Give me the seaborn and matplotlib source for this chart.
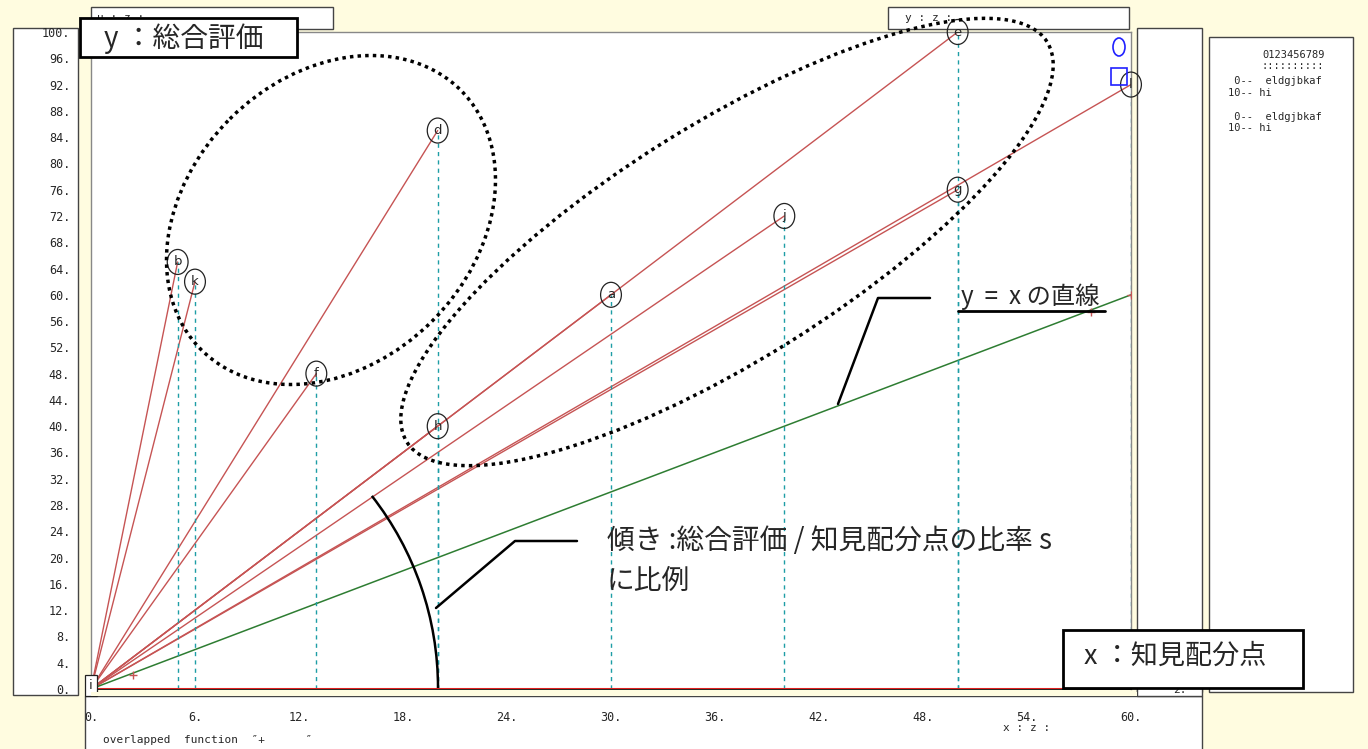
import numpy as np
import pandas as pd
import seaborn as sns
import matplotlib.pyplot as plt
from matplotlib.patches import Ellipse, Rectangle, Arc

# point data (x: 知見配分点, y: 総合評価)
point_labels = ['a', 'b', 'd', 'e', 'f', 'g', 'h', 'j', 'k', 'l']
point_x = [30, 5, 20, 50, 13, 50, 20, 40, 6, 60]
point_y = [60, 65, 85, 100, 48, 76, 40, 72, 62, 92]

# y = x reference line and its "+" marks
diag_x = [0, 60]
diag_y = [0, 60]
plus_x = [2.4, 57.7, 60]
plus_y = [2.1, 57.4, 60]

x_ticks = list(range(0, 61, 6))
y_ticks = list(range(0, 101, 4))

RED = '#C65454'
GREEN = '#2E7D32'
TEAL = '#1E9EA6'
BG = '#FFFCE0'

sns.set_style('white')
plt.rcParams['font.family'] = ['Noto Sans CJK JP', 'DejaVu Sans']
MONO = ['DejaVu Sans Mono']

W, H = 1368, 749
fig = plt.figure(figsize=(W / 100, H / 100), dpi=100, facecolor=BG)


def pixel_axes(z):
    a = fig.add_axes([0, 0, 1, 1])
    a.set_xlim(0, W)
    a.set_ylim(H, 0)
    a.axis('off')
    a.patch.set_alpha(0)
    a.set_zorder(z)
    return a


bg = pixel_axes(0)
# panels behind the plot
for (x0, y0, x1, y1) in [(13, 28, 78, 695), (91, 7, 333, 29), (888, 7, 1129, 29),
                         (1137, 28, 1202, 692), (1209, 37, 1353, 692),
                         (85, 696, 1202, 760), (1137, 687, 1202, 696)]:
    bg.add_patch(Rectangle((x0, y0), x1 - x0, y1 - y0, fc='white', ec='#444444', lw=1))
bg.text(97, 18, 'u : z :', family=MONO, fontsize=8, va='center')
bg.text(905, 18, 'y : z :', family=MONO, fontsize=8, va='center')
bg.text(103, 740, 'overlapped  function  \u2033+      \u2033', family=MONO, fontsize=8, va='center')
bg.text(1003, 728, 'x : z :', family=MONO, fontsize=8, va='center')
bg.text(1173, 690, '2.', family=MONO, fontsize=8, va='center')
# legend panel text
bg.text(1262, 55, '0123456789', family=MONO, fontsize=7.5, va='center')
bg.text(1262, 66, '::::::::::', family=MONO, fontsize=7.5, va='center')
bg.text(1228, 81, ' 0--  eldgjbkaf', family=MONO, fontsize=7.5, va='center')
bg.text(1228, 93, '10-- hi', family=MONO, fontsize=7.5, va='center')
bg.text(1228, 117, ' 0--  eldgjbkaf', family=MONO, fontsize=7.5, va='center')
bg.text(1228, 128, '10-- hi', family=MONO, fontsize=7.5, va='center')

# main plot axes
ax = fig.add_axes([91 / W, (H - 689) / H, (1131 - 91) / W, (689 - 32) / H])
ax.set_zorder(1)
ax.set_facecolor('white')

# red lines from the origin to each point
seg = pd.DataFrame({
    'x': [v for px in point_x for v in (0, px)],
    'y': [v for py in point_y for v in (0, py)],
    'seg': [lab for lab in point_labels for _ in range(2)],
})
sns.lineplot(data=seg, x='x', y='y', units='seg', estimator=None, color=RED,
             lw=1, ax=ax, legend=False, sort=False)

# y = x line
sns.lineplot(x=diag_x, y=diag_y, color=GREEN, lw=1.1, ax=ax)
sns.scatterplot(x=plus_x, y=plus_y, marker='+', color=RED, s=40, linewidth=1, ax=ax, zorder=4)

# dashed drops to the x axis
ax.vlines(point_x, 0, point_y, colors=TEAL, linestyles=(0, (3, 3)), lw=1)

# baseline
ax.axhline(0, color='#E02020', lw=2.2, zorder=3)

# labelled ellipses at each point
for lab, px, py in zip(point_labels, point_x, point_y):
    ax.add_patch(Ellipse((px, py), 1.2, 3.8, fc='none', ec='#222222', lw=0.9,
                         clip_on=False, zorder=5))
    ax.text(px, py, lab, ha='center', va='center', fontsize=9.5, family=['DejaVu Sans'],
            clip_on=False, zorder=6)
ax.text(0, 0.5, 'i', ha='center', va='center', fontsize=9.5, family=['DejaVu Sans'], zorder=6,
        bbox=dict(boxstyle='square,pad=0.3', fc='white', ec='#222222', lw=0.9))

ax.set_xlim(0, 60)
ax.set_ylim(0, 100)
ax.set_xticks(x_ticks)
ax.set_xticklabels([f'{v}.' for v in x_ticks], family=MONO, fontsize=8.5)
ax.set_yticks(y_ticks)
ax.set_yticklabels([f'{v}.' for v in y_ticks], family=MONO, fontsize=8.5)
ax.tick_params(axis='x', direction='out', length=15, width=1, color='#222222', pad=1)
ax.tick_params(axis='y', length=0, pad=15)
ax.set_xlabel('')
ax.set_ylabel('')
for side in ['top', 'right', 'left']:
    ax.spines[side].set_color('#888888')
    ax.spines[side].set_linewidth(1)
ax.spines['bottom'].set_color('black')
ax.spines['bottom'].set_linewidth(1.2)

# annotations on top
fg = pixel_axes(2)
fg.add_patch(Rectangle((91, 691.5), 1046, 4, fc=BG, ec='none'))
fg.add_patch(Ellipse((331, 220), 367, 286, angle=-45, fill=False, ec='black',
                     lw=2.5, ls=(0, (1, 1.2))))
fg.add_patch(Ellipse((727, 242), 755, 236, angle=-32, fill=False, ec='black',
                     lw=2.5, ls=(0, (1, 1.2))))
fg.add_patch(Arc((126, 688), 624, 624, theta1=-38, theta2=0, color='black', lw=1.8))
fg.plot([577, 515, 436], [541, 541, 608], color='black', lw=1.8)
fg.plot([930, 878, 838], [298, 298, 404], color='black', lw=1.8)

fg.add_patch(Ellipse((1119, 47), 12, 18, fill=False, ec='#2020FF', lw=1.2))
fg.add_patch(Rectangle((1111, 68), 16, 17, fill=False, ec='#2020FF', lw=1.2))

fg.add_patch(Rectangle((80, 18), 217, 39, fc='white', ec='black', lw=2))
fg.text(104, 39, 'y ：総合評価', fontsize=20, va='center', ha='left')
fg.add_patch(Rectangle((1063, 630), 240, 58, fc='white', ec='black', lw=2))
fg.text(1084, 656, 'x ：知見配分点', fontsize=19.5, va='center', ha='left')
fg.text(607, 541, '傾き :総合評価 / 知見配分点の比率 s', fontsize=20, va='center', ha='left')
fg.text(607, 581, 'に比例', fontsize=20, va='center', ha='left')
fg.text(961, 297, 'y  =  x の直線', fontsize=17.5, va='center', ha='left')
fg.plot([958, 1105], [311, 311], color='black', lw=2)

fig.savefig('out.png', dpi=100, facecolor=BG)
